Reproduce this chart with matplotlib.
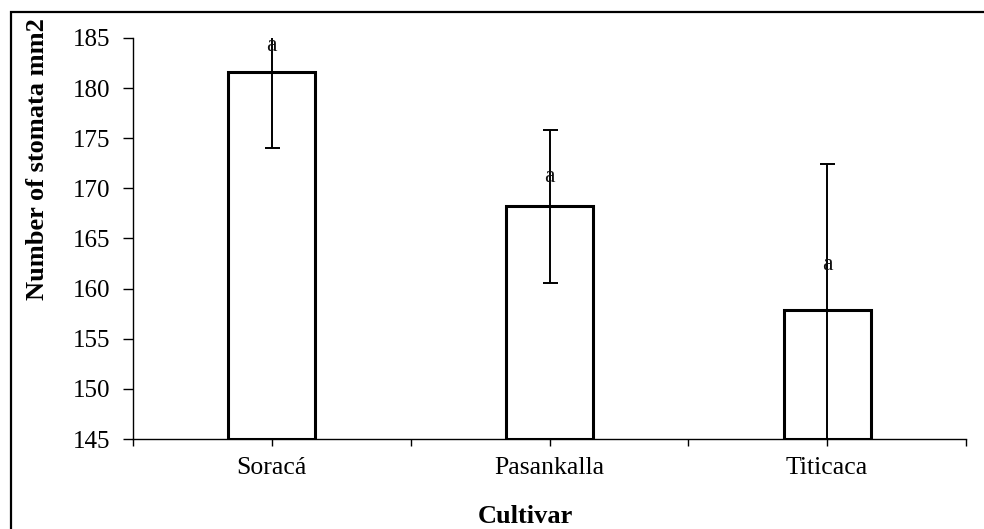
import numpy as np
import matplotlib
matplotlib.use("Agg")
import matplotlib.pyplot as plt
from matplotlib.patches import Rectangle

plt.rcParams['font.family'] = ['Liberation Serif', 'DejaVu Serif']

# values
cultivars = ['Soracá', 'Pasankalla', 'Titicaca']
means = [181.6, 168.2, 157.9]
errors = [7.6, 7.6, 14.5]
letters = ['a', 'a', 'a']
letter_y = [184.3, 171.2, 162.4]
y_ticks = [145, 150, 155, 160, 165, 170, 175, 180, 185]
base = 145

fig = plt.figure(figsize=(9.84, 5.29), dpi=100)
ax = fig.add_axes([0.1352, 0.1701, 0.8465, 0.7581])

x = np.arange(len(cultivars))
heights = [m - base for m in means]
ax.bar(x, heights, bottom=base, width=0.313, color='white',
       edgecolor='black', linewidth=2.2, zorder=2)
ax.errorbar(x, means, yerr=errors, fmt='none', ecolor='black',
            elinewidth=1.4, capsize=5.4, capthick=1.4, zorder=3)

for xi, lab, ly in zip(x, letters, letter_y):
    ax.text(xi, ly, lab, ha='center', va='center', fontsize=17,
            color='#111111', zorder=4)

ax.set_xlim(-0.5, 2.5)
ax.set_ylim(145, 185)
ax.set_yticks(y_ticks)
ax.set_xticks(x)
ax.set_xticklabels(cultivars)
ax.set_xticks([-0.5, 0.5, 1.5, 2.5], minor=True)

ax.spines['top'].set_visible(False)
ax.spines['right'].set_visible(False)
ax.spines['left'].set_linewidth(1.0)
ax.spines['bottom'].set_linewidth(1.0)

ax.tick_params(axis='y', direction='out', length=7, width=1.0,
               labelsize=18, pad=9)
ax.tick_params(axis='x', which='both', direction='out', length=5,
               width=1.0, labelsize=18.5, pad=8)

fig.text(0.038, 0.70, 'Number of stomata mm2', rotation=90, ha='center',
         va='center', fontsize=19, fontweight='bold')
fig.text(0.534, 0.024, 'Cultivar', ha='center', va='center',
         fontsize=19, fontweight='bold')

# outer frame around the chart area
fig.add_artist(Rectangle((11 / 984, -0.05), 1.1, 1 - 12 / 529 + 0.05,
                         transform=fig.transFigure, fill=False,
                         edgecolor='black', linewidth=1.6))

fig.savefig('out.png', dpi=100)
